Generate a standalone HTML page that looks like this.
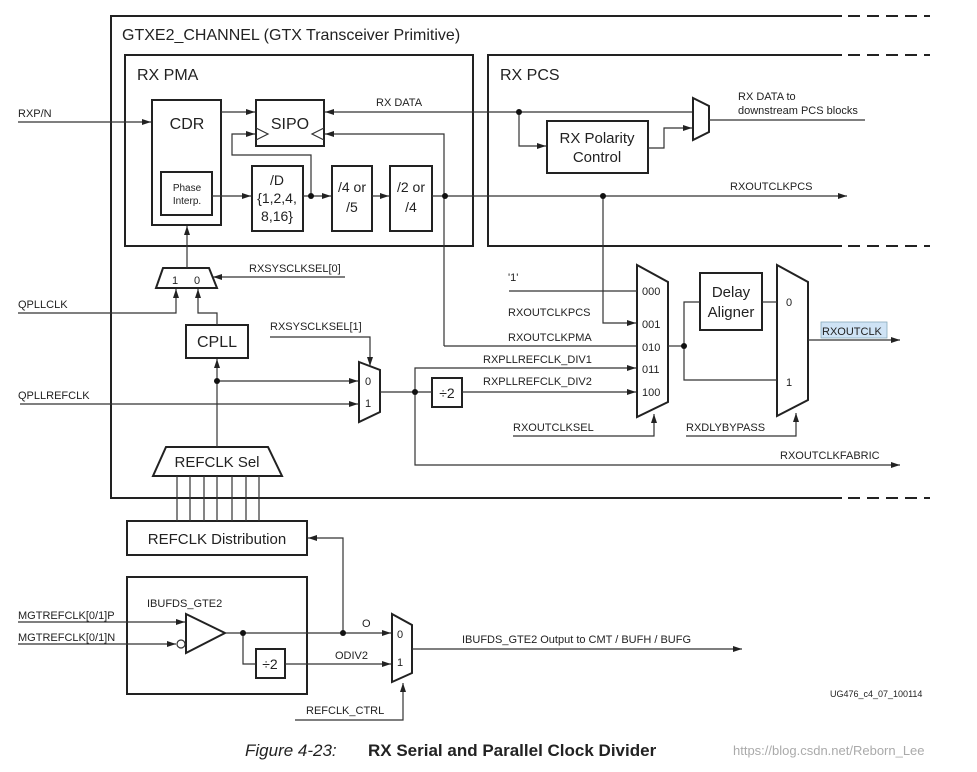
<!DOCTYPE html>
<html><head><meta charset="utf-8"><style>
body{margin:0;background:#fff;}
svg text{font-family:"Liberation Sans",Arial,sans-serif;fill:#222;}
</style></head><body>
<svg width="977" height="767" viewBox="0 0 977 767" xmlns="http://www.w3.org/2000/svg">
<defs>
<marker id="a" markerWidth="10" markerHeight="8" refX="9" refY="4" orient="auto" markerUnits="userSpaceOnUse"><path d="M0,1 L9,4 L0,7 Z" fill="#222"/></marker>
</defs>
<g fill="none" stroke="#222" stroke-width="2">
<!-- outer -->
<polyline points="842,16 111,16 111,498 842,498"/>
<line x1="848" y1="16" x2="930" y2="16" stroke-dasharray="12,7"/>
<line x1="848" y1="498" x2="930" y2="498" stroke-dasharray="12,7"/>
<!-- RX PMA -->
<rect x="125" y="55" width="348" height="191"/>
<!-- RX PCS -->
<polyline points="842,55 488,55 488,246 842,246"/>
<line x1="848" y1="55" x2="930" y2="55" stroke-dasharray="12,7"/>
<line x1="848" y1="246" x2="930" y2="246" stroke-dasharray="12,7"/>
<!-- boxes -->
<rect x="152" y="100" width="69" height="125"/>
<rect x="161" y="172" width="51" height="43"/>
<rect x="256" y="100" width="68" height="46"/>
<rect x="252" y="166" width="51" height="65"/>
<rect x="332" y="166" width="40" height="65"/>
<rect x="390" y="166" width="42" height="65"/>
<rect x="547" y="121" width="101" height="52"/>
<rect x="186" y="325" width="62" height="33"/>
<rect x="432" y="378" width="30" height="29"/>
<rect x="700" y="273" width="62" height="57"/>
<rect x="127" y="521" width="180" height="34"/>
<rect x="127" y="577" width="180" height="117"/>
<rect x="256" y="649" width="29" height="29"/>
<!-- muxes -->
<polygon points="693,98 709,106 709,132 693,140"/>
<polygon points="163,268 209,268 217,288 156,288"/>
<polygon points="359,362 380,370 380,412 359,422"/>
<polygon points="637,265 668,282 668,402 637,417"/>
<polygon points="777,265 808,282 808,400 777,416"/>
<polygon points="166,447 268,447 282,476 153,476"/>
<polygon points="392,614 412,625 412,673 392,682"/>
<polygon points="186,614 225,633 186,653"/>
</g>
<g fill="none" stroke="#333" stroke-width="1.2">
<!-- SIPO clock triangles -->
<polyline points="256,128 268,134 256,140"/>
<polyline points="324,128 312,134 324,140"/>
<line x1="18" y1="122" x2="151" y2="122" marker-end="url(#a)"/>
<line x1="221" y1="112" x2="255" y2="112" marker-end="url(#a)"/>
<line x1="692" y1="112" x2="325" y2="112" marker-end="url(#a)"/>
<polyline points="519,112 519,146 546,146" marker-end="url(#a)"/>
<polyline points="648,148 664,148 664,128 692,128" marker-end="url(#a)"/>
<line x1="709" y1="120" x2="865" y2="120"/>
<line x1="212" y1="196" x2="251" y2="196" marker-end="url(#a)"/>
<line x1="303" y1="196" x2="331" y2="196" marker-end="url(#a)"/>
<line x1="372" y1="196" x2="389" y2="196" marker-end="url(#a)"/>
<line x1="432" y1="196" x2="847" y2="196" marker-end="url(#a)"/>
<polyline points="311,196 311,155 232,155 232,134 255,134" marker-end="url(#a)"/>
<polyline points="444,346 444,134 325,134" marker-end="url(#a)"/>
<line x1="444" y1="346" x2="636" y2="346"/>
<polyline points="603,196 603,323 636,323" marker-end="url(#a)"/>
<line x1="509" y1="291" x2="637" y2="291"/>
<line x1="187" y1="268" x2="187" y2="226" marker-end="url(#a)"/>
<line x1="345" y1="277" x2="213" y2="277" marker-end="url(#a)"/>
<polyline points="18,313 176,313 176,289" marker-end="url(#a)"/>
<polyline points="217,325 217,313 198,313 198,289" marker-end="url(#a)"/>
<line x1="217" y1="447" x2="217" y2="359" marker-end="url(#a)"/>
<line x1="217" y1="381" x2="358" y2="381" marker-end="url(#a)"/>
<line x1="20" y1="404" x2="358" y2="404" marker-end="url(#a)"/>
<polyline points="270,337 370,337 370,366" marker-end="url(#a)"/>
<line x1="380" y1="392" x2="432" y2="392"/>
<line x1="462" y1="392" x2="636" y2="392" marker-end="url(#a)"/>
<polyline points="415,392 415,368 636,368" marker-end="url(#a)"/>
<polyline points="415,392 415,465 900,465" marker-end="url(#a)"/>
<polyline points="513,436 654,436 654,414" marker-end="url(#a)"/>
<polyline points="686,436 796,436 796,413" marker-end="url(#a)"/>
<line x1="668" y1="346" x2="684" y2="346"/>
<polyline points="700,302 684,302 684,380 777,380"/>
<line x1="762" y1="302" x2="777" y2="302"/>
<line x1="808" y1="340" x2="900" y2="340" marker-end="url(#a)"/>
<line x1="177" y1="476" x2="177" y2="521"/><line x1="190" y1="476" x2="190" y2="521"/>
<line x1="204" y1="476" x2="204" y2="521"/><line x1="217" y1="476" x2="217" y2="521"/>
<line x1="232" y1="476" x2="232" y2="521"/><line x1="246" y1="476" x2="246" y2="521"/>
<line x1="259" y1="476" x2="259" y2="521"/>
<polyline points="343,633 343,538 308,538" marker-end="url(#a)"/>
<line x1="18" y1="622" x2="185" y2="622" marker-end="url(#a)"/>
<line x1="18" y1="644" x2="176" y2="644" marker-end="url(#a)"/>
<circle cx="181" cy="644" r="4" fill="#fff"/>
<line x1="225" y1="633" x2="391" y2="633" marker-end="url(#a)"/>
<polyline points="243,633 243,664 256,664"/>
<line x1="285" y1="664" x2="391" y2="664" marker-end="url(#a)"/>
<line x1="412" y1="649" x2="742" y2="649" marker-end="url(#a)"/>
<polyline points="295,720 403,720 403,683" marker-end="url(#a)"/>
</g>
<g fill="#111">
<circle cx="311" cy="196" r="3"/><circle cx="445" cy="196" r="3"/>
<circle cx="519" cy="112" r="3"/><circle cx="603" cy="196" r="3"/>
<circle cx="217" cy="381" r="3"/><circle cx="415" cy="392" r="3"/>
<circle cx="684" cy="346" r="3"/><circle cx="243" cy="633" r="3"/>
<circle cx="343" cy="633" r="3"/>
</g>
<rect x="821" y="322" width="66" height="16" fill="#cfe3f5" stroke="#8ab" stroke-width="0.8"/>
<g font-size="16">
<text x="122" y="40">GTXE2_CHANNEL (GTX Transceiver Primitive)</text>
<text x="137" y="80">RX PMA</text>
<text x="500" y="80">RX PCS</text>
<text x="187" y="129" text-anchor="middle">CDR</text>
<text x="290" y="129" text-anchor="middle">SIPO</text>
<text x="597" y="143" text-anchor="middle" font-size="15">RX Polarity</text>
<text x="597" y="162" text-anchor="middle" font-size="15">Control</text>
<text x="217" y="347" text-anchor="middle">CPLL</text>
<text x="731" y="297" text-anchor="middle" font-size="15">Delay</text>
<text x="731" y="317" text-anchor="middle" font-size="15">Aligner</text>
<text x="217" y="467" text-anchor="middle" font-size="15">REFCLK Sel</text>
<text x="217" y="544" text-anchor="middle" font-size="15">REFCLK Distribution</text>
</g>
<g font-size="14" text-anchor="middle">
<text x="277" y="185">/D</text><text x="277" y="203">{1,2,4,</text><text x="277" y="221">8,16}</text>
<text x="352" y="192">/4 or</text><text x="352" y="212">/5</text>
<text x="411" y="192">/2 or</text><text x="411" y="212">/4</text>
<text x="447" y="398">÷2</text>
<text x="270" y="669">÷2</text>
</g>
<g font-size="10" text-anchor="middle">
<text x="187" y="191">Phase</text><text x="187" y="204">Interp.</text>
</g>
<g font-size="11">
<text x="18" y="117">RXP/N</text>
<text x="376" y="106">RX DATA</text>
<text x="738" y="100">RX DATA to</text>
<text x="738" y="114">downstream PCS blocks</text>
<text x="730" y="190">RXOUTCLKPCS</text>
<text x="249" y="272">RXSYSCLKSEL[0]</text>
<text x="172" y="284">1</text><text x="194" y="284">0</text>
<text x="18" y="308">QPLLCLK</text>
<text x="270" y="330">RXSYSCLKSEL[1]</text>
<text x="18" y="399">QPLLREFCLK</text>
<text x="365" y="385">0</text><text x="365" y="407">1</text>
<text x="508" y="281">'1'</text>
<text x="508" y="316">RXOUTCLKPCS</text>
<text x="508" y="341">RXOUTCLKPMA</text>
<text x="483" y="363">RXPLLREFCLK_DIV1</text>
<text x="483" y="385">RXPLLREFCLK_DIV2</text>
<text x="642" y="295">000</text><text x="642" y="328">001</text>
<text x="642" y="351">010</text><text x="642" y="373">011</text>
<text x="642" y="396">100</text>
<text x="513" y="431">RXOUTCLKSEL</text>
<text x="686" y="431">RXDLYBYPASS</text>
<text x="786" y="306">0</text><text x="786" y="386">1</text>
<text x="822" y="335">RXOUTCLK</text>
<text x="780" y="459">RXOUTCLKFABRIC</text>
<text x="147" y="607">IBUFDS_GTE2</text>
<text x="18" y="619">MGTREFCLK[0/1]P</text>
<text x="18" y="641">MGTREFCLK[0/1]N</text>
<text x="362" y="627">O</text>
<text x="335" y="659">ODIV2</text>
<text x="397" y="638">0</text><text x="397" y="666">1</text>
<text x="462" y="643">IBUFDS_GTE2   Output to CMT / BUFH / BUFG</text>
<text x="306" y="714">REFCLK_CTRL</text>
</g>
<text x="830" y="697" font-size="9">UG476_c4_07_100114</text>
<text x="245" y="756" font-size="17" font-style="italic">Figure 4-23:</text>
<text x="368" y="756" font-size="17" font-weight="bold">RX Serial and Parallel Clock Divider</text>
<text x="733" y="755" font-size="13" style="fill:#aaa">https://blog.csdn.net/Reborn_Lee</text>
</svg>
</body></html>
